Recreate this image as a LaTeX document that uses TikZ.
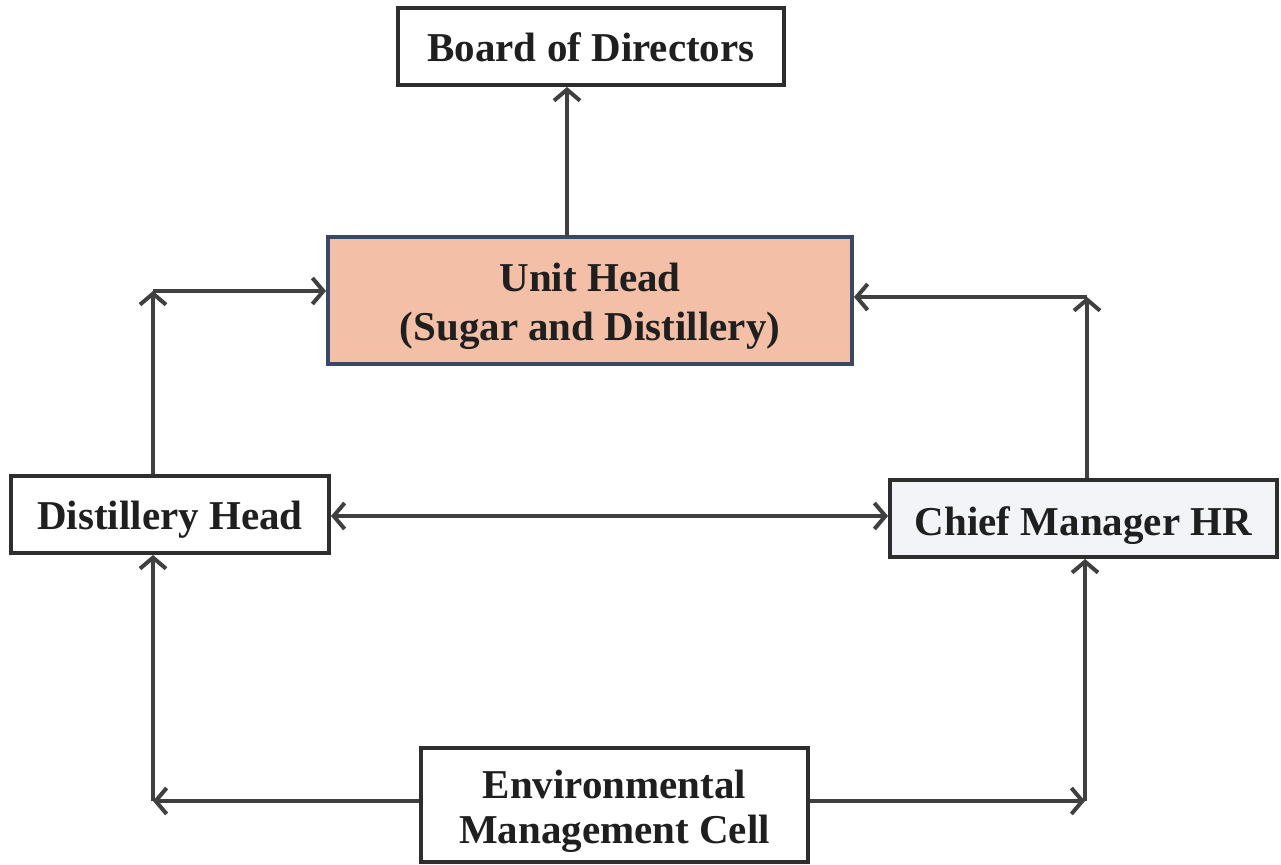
\documentclass[tikz,border=0pt]{standalone}
\usepackage{fontspec}
\setmainfont{Liberation Serif}
\usetikzlibrary{arrows.meta}
\definecolor{linec}{HTML}{404040}
\definecolor{boxc}{HTML}{2E2E2E}
\definecolor{salmon}{HTML}{F3BFA7}
\definecolor{unitborder}{HTML}{3A4868}
\definecolor{paleblue}{HTML}{F3F4F8}
\tikzset{
  box/.style={draw=boxc, line width=4pt, fill=white, inner sep=0pt, align=center,
    font=\bfseries\fontsize{41}{48}\selectfont, text=black!88},
  lbl/.style={align=center, inner sep=0pt, text=black!88},
  tip/.tip={Straight Barb[length=11pt,width=26pt]},
  arr/.style={draw=linec, line width=4pt, -tip},
  dbl/.style={draw=linec, line width=4pt, tip-tip}
}
\begin{document}
\begin{tikzpicture}[x=1pt,y=-1pt]
\useasboundingbox (0,0) rectangle (1281,864);
\node[box, minimum width=386pt, minimum height=77pt, text height=39pt, text depth=9pt] (board) at (591,46.5) {Board of Directors};
\node[box, draw=unitborder, fill=salmon, minimum width=524pt, minimum height=127pt,
  label={[lbl, font=\bfseries\fontsize{41}{49}\selectfont, yshift=-6pt]center:Unit Head\\(Sugar and Distillery)}] (unit) at (590,300.5) {};
\node[box, minimum width=318pt, minimum height=77pt, text height=39pt, text depth=9pt] (dist) at (170,514.5) {Distillery Head};
\node[box, fill=paleblue, minimum width=387pt, minimum height=77pt, text height=42pt, text depth=9pt] (chief) at (1083.5,518.5) {Chief Manager HR};
\node[box, minimum width=387pt, minimum height=114pt,
  label={[lbl, font=\bfseries\fontsize{41}{45}\selectfont, yshift=-6pt]center:Environmental\\Management Cell}] (env) at (614.5,805) {};

\coordinate (top) at (567,0);
\coordinate (cl) at (153,291);
\coordinate (cr) at (1087,297);
\coordinate (bl) at (153,801);
\coordinate (br) at (1085,801);

\draw[arr] (unit.north -| top) -- (board.south -| top);
\draw[arr] (dist.north -| cl) -- (cl);
\draw[arr] (cl) -- (unit.west |- cl);
\draw[arr] (chief.north -| cr) -- (cr);
\draw[arr] (cr) -- (unit.east |- cr);
\draw[dbl] (dist.east |- 0,516) -- (chief.west |- 0,516);
\draw[arr] (env.west |- bl) -- (bl);
\draw[arr] (bl) -- (dist.south -| bl);
\draw[arr] (env.east |- br) -- (br);
\draw[arr] (br) -- (chief.south -| br);
\end{tikzpicture}
\end{document}
